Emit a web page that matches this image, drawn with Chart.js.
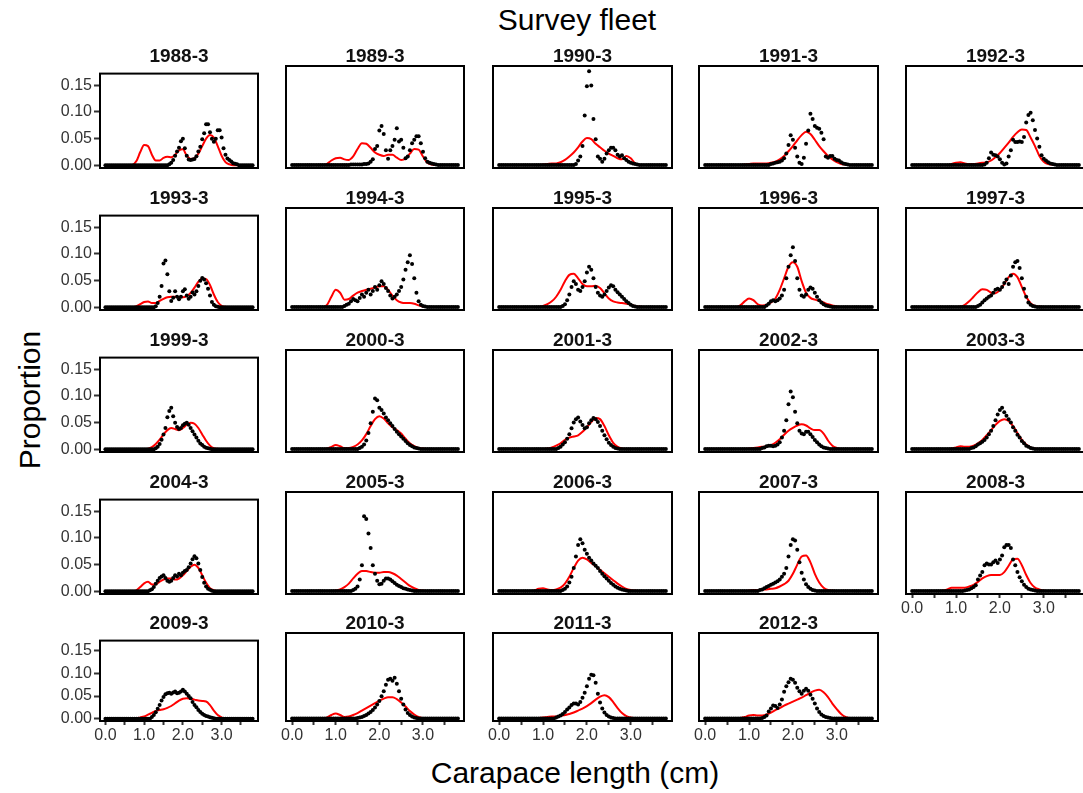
<!DOCTYPE html>
<html>
<head>
<meta charset="utf-8">
<script src="https://cdn.jsdelivr.net/npm/chart.js@4/dist/chart.umd.min.js"></script>
<style>
  html, body { margin: 0; padding: 0; background: #fff; }
  body { width: 1083px; height: 793px; overflow: hidden; position: relative;
         font-family: 'Liberation Sans', Arial, sans-serif; }
  .txt { position: absolute; white-space: nowrap; color: #000; text-align: center; }
  .panel-title { position: absolute; text-align: center; font-weight: bold; font-size: 19px;
                 line-height: 20px; color: #111; white-space: nowrap; }
  canvas { position: absolute; }
</style>
</head>
<body>
<div class="txt" style="left:377px;width:400px;top:2px;font-size:30px;line-height:36px;">Survey fleet</div>
<div class="txt" style="left:375px;width:400px;top:755px;font-size:30px;line-height:36px;">Carapace length (cm)</div>
<div class="txt" style="left:-170px;width:400px;top:382px;font-size:30px;line-height:36px;transform:rotate(-90deg);">Proportion</div>
<script>
// Survey fleet length compositions: observed proportions (points) and model fit (red line)

const panelTitles = [
  '1988-3','1989-3','1990-3','1991-3','1992-3',
  '1993-3','1994-3','1995-3','1996-3','1997-3',
  '1999-3','2000-3','2001-3','2002-3','2003-3',
  '2004-3','2005-3','2006-3','2007-3','2008-3',
  '2009-3','2010-3','2011-3','2012-3'
];

// carapace length bins (cm) of the observed proportions
const lengthBins = [0,0.05,0.1,0.15,0.2,0.25,0.3,0.35,0.4,0.45,0.5,0.55,0.6,0.65,0.7,0.75,0.8,0.85,0.9,0.95,
  1,1.05,1.1,1.15,1.2,1.25,1.3,1.35,1.4,1.45,1.5,1.55,1.6,1.65,1.7,1.75,1.8,1.85,1.9,1.95,
  2,2.05,2.1,2.15,2.2,2.25,2.3,2.35,2.4,2.45,2.5,2.55,2.6,2.65,2.7,2.75,2.8,2.85,2.9,2.95,
  3,3.05,3.1,3.15,3.2,3.25,3.3,3.35,3.4,3.45,3.5,3.55,3.6,3.65,3.7,3.75,3.8];

// carapace lengths (cm) at which the expected curve is given
const curveBins = [0,0.1,0.2,0.3,0.4,0.5,0.6,0.7,0.8,0.9,1,1.1,1.2,1.3,1.4,1.5,1.6,1.7,1.8,1.9,
  2,2.1,2.2,2.3,2.4,2.5,2.6,2.7,2.8,2.9,3,3.1,3.2,3.3,3.4,3.5,3.6,3.7,3.8];

const xTickValues = [0, 0.5, 1, 1.5, 2, 2.5, 3, 3.5];
const yTickValues = [0, 0.05, 0.1, 0.15];

// observed proportion at length, one row per panel
const observed = [
  /* 1988-3 */ [0,0,0,0,0, 0,0,0,0,0, 0,0,0,0,0, 0,0,0,0,0, 0,0,0,0,0, 0,0,0,0,0, 0,0,0,
    .002,.005,.01,.018,.026,.033,.045,.05,.032,.018,.011,.01,.011,.012,.017,.026,.035,.049,.06,.077,.077,.062,.05,.044,.05,.066,.066,.052,.032,.02,.013,.01,.007,.004,.003,.002,
    0,0,0,0,0, 0,0,0],
  /* 1989-3 */ [0,0,0,0,0, 0,0,0,0,0, 0,0,0,0,0, 0,0,0,0,0, 0,0,0,0,0, 0,0,
    .001,.001,.001,.001,.001,.001,.002,.002,.003,.006,.01,.028,.033,.06,.068,.054,.026,.011,.026,.033,.044,.064,.041,.044,.03,.012,.015,.026,.038,.044,.05,.05,.038,.023,.012,.006,.004,.003,.002,.001,
    0,0,0,0,0, 0,0,0,0,0],
  /* 1990-3 */ [0,0,0,0,0, 0,0,0,0,0, 0,0,0,0,0, 0,0,0,0,0, 0,0,0,0,0, 0,0,0,0,0, 0,0,0,0,0,
    .002,.008,.015,.033,.086,.137,.163,.138,.08,.045,.015,.011,.006,.011,.02,.026,.03,.03,.026,.018,.015,.017,.012,.009,.006,.004,.003,.002,.001,
    0,0,0,0,0, 0,0,0,0,0, 0,0,0],
  /* 1991-3 */ [0,0,0,0,0, 0,0,0,0,0, 0,0,0,0,0, 0,0,0,0,0, 0,0,0,0,0, 0,0,0,0,0,
    .002,.003,.004,.005,.006,.008,.012,.02,.035,.052,.044,.03,.015,.004,.002,.013,.037,.06,.089,.08,.068,.065,.063,.056,.045,.015,.013,.016,.016,.011,.009,.008,.005,.003,.002,.001,
    0,0,0,0,0, 0,0,0,0,0, 0],
  /* 1992-3 */ [0,0,0,0,0, 0,0,0,0,0, 0,0,0,0,0, 0,0,0,0,0, 0,0,0,0,0, 0,0,0,0,0, 0,0,0,
    .001,.004,.012,.022,.018,.017,.015,.01,.004,.001,.003,.015,.026,.044,.04,.04,.041,.04,.049,.074,.087,.091,.078,.061,.046,.032,.017,.011,.008,.005,.003,.002,.001,
    0,0,0,0,0, 0,0,0,0,0, 0],
  /* 1993-3 */ [0,0,0,0,0, 0,0,0,0,0, 0,0,0,0,0, 0,0,0,0,0, 0,0,0,0,0, 0,
    .002,.008,.02,.04,.082,.088,.062,.03,.012,.018,.03,.02,.015,.02,.03,.034,.022,.016,.02,.028,.024,.03,.04,.05,.055,.052,.045,.035,.022,.01,.005,.002,.001,
    0,0,0,0,0, 0,0,0,0,0, 0,0,0,0,0, 0,0,0],
  /* 1994-3 */ [0,0,0,0,0, 0,0,0,0,0, 0,0,0,0,0, 0,0,0,0,0, 0,0,0,0,
    .002,.004,.006,.01,.014,.012,.01,.016,.022,.018,.025,.03,.022,.028,.035,.03,.038,.045,.04,.033,.028,.02,.015,.018,.022,.028,.035,.048,.065,.078,.09,.075,.05,.025,.01,.004,.002,.001,
    0,0,0,0,0, 0,0,0,0,0, 0,0,0,0,0],
  /* 1995-3 */ [0,0,0,0,0, 0,0,0,0,0, 0,0,0,0,0, 0,0,0,0,0, 0,0,0,0,0, 0,0,0,0,
    .002,.005,.012,.022,.035,.045,.04,.03,.028,.035,.045,.06,.07,.065,.05,.035,.025,.02,.018,.022,.028,.034,.038,.036,.03,.026,.022,.018,.014,.01,.007,.004,.002,.001,
    0,0,0,0,0, 0,0,0,0,0, 0,0,0,0],
  /* 1996-3 */ [0,0,0,0,0, 0,0,0,0,0, 0,0,0,0,0, 0,0,0,0,0, 0,0,0,0,0, 0,0,0,
    .003,.006,.01,.012,.01,.012,.015,.02,.03,.05,.07,.09,.104,.08,.05,.03,.02,.018,.022,.03,.034,.032,.025,.018,.012,.008,.005,.003,.002,.001,
    0,0,0,0,0, 0,0,0,0,0, 0,0,0,0,0, 0,0,0,0],
  /* 1997-3 */ [0,0,0,0,0, 0,0,0,0,0, 0,0,0,0,0, 0,0,0,0,0, 0,0,0,0,0, 0,0,0,0,0,
    .002,.004,.008,.012,.015,.018,.02,.025,.03,.032,.03,.035,.042,.048,.04,.055,.07,.078,.08,.068,.05,.032,.018,.008,.004,.002,.001,
    0,0,0,0,0, 0,0,0,0,0, 0,0,0,0,0, 0,0,0,0,0],
  /* 1999-3 */ [0,0,0,0,0, 0,0,0,0,0, 0,0,0,0,0, 0,0,0,0,0, 0,0,0,0,0, 0,
    .002,.005,.01,.018,.028,.04,.06,.072,.078,.062,.05,.042,.038,.04,.045,.048,.05,.046,.04,.034,.028,.022,.016,.011,.008,.005,.003,.002,.001,
    0,0,0,0,0, 0,0,0,0,0, 0,0,0,0,0, 0,0,0,0,0, 0,0],
  /* 2000-3 */ [0,0,0,0,0, 0,0,0,0,0, 0,0,0,0,0, 0,0,0,0,0, 0,0,0,0,0, 0,0,0,0,0, 0,
    .002,.004,.008,.015,.028,.045,.065,.088,.085,.072,.068,.062,.055,.05,.045,.04,.035,.03,.026,.022,.018,.014,.01,.007,.005,.003,.002,.001,
    0,0,0,0,0, 0,0,0,0,0, 0,0,0,0,0, 0,0,0],
  /* 2001-3 */ [0,0,0,0,0, 0,0,0,0,0, 0,0,0,0,0, 0,0,0,0,0, 0,0,0,0,0, 0,0,
    .002,.004,.008,.012,.018,.026,.036,.046,.052,.055,.048,.042,.036,.038,.045,.05,.054,.052,.047,.04,.032,.024,.017,.011,.007,.004,.002,.001,
    0,0,0,0,0, 0,0,0,0,0, 0,0,0,0,0, 0,0,0,0,0, 0,0],
  /* 2002-3 */ [0,0,0,0,0, 0,0,0,0,0, 0,0,0,0,0, 0,0,0,0,0, 0,0,0,0,0, 0,
    .002,.003,.005,.006,.006,.005,.006,.008,.012,.02,.032,.05,.078,.1,.09,.065,.045,.032,.027,.026,.03,.03,.026,.021,.016,.012,.008,.005,.003,.002,.001,
    0,0,0,0,0, 0,0,0,0,0, 0,0,0,0,0, 0,0,0,0,0],
  /* 2003-3 */ [0,0,0,0,0, 0,0,0,0,0, 0,0,0,0,0, 0,0,0,0,0, 0,0,0,0,0, 0,0,
    .002,.003,.005,.008,.01,.013,.016,.02,.026,.032,.04,.05,.06,.068,.072,.064,.058,.052,.046,.038,.032,.025,.02,.014,.01,.006,.004,.002,.001,
    0,0,0,0,0, 0,0,0,0,0, 0,0,0,0,0, 0,0,0,0,0, 0],
  /* 2004-3 */ [0,0,0,0,0, 0,0,0,0,0, 0,0,0,0,0, 0,0,0,0,0, 0,0,0,
    .002,.004,.008,.014,.02,.025,.028,.03,.025,.02,.018,.02,.025,.03,.028,.033,.03,.035,.038,.04,.045,.052,.06,.066,.062,.052,.04,.027,.016,.009,.005,.003,.001,
    0,0,0,0,0, 0,0,0,0,0, 0,0,0,0,0, 0,0,0,0,0, 0],
  /* 2005-3 */ [0,0,0,0,0, 0,0,0,0,0, 0,0,0,0,0, 0,0,0,0,0, 0,0,0,0,0, 0,0,0,
    .002,.004,.008,.02,.045,.13,.125,.1,.075,.045,.03,.018,.012,.013,.018,.022,.022,.02,.017,.014,.011,.009,.007,.005,.004,.003,.002,.001,
    0,0,0,0,0, 0,0,0,0,0, 0,0,0,0,0, 0,0,0,0,0, 0],
  /* 2006-3 */ [0,0,0,0,0, 0,0,0,0,0, 0,0,0,0,0, 0,0,0,0,0, 0,0,0,0,0, 0,0,0,0,
    .002,.004,.008,.015,.025,.04,.06,.08,.09,.083,.072,.065,.058,.053,.048,.044,.04,.035,.03,.026,.022,.018,.014,.011,.008,.006,.004,.003,.002,.001,
    0,0,0,0,0, 0,0,0,0,0, 0,0,0,0,0, 0,0,0],
  /* 2007-3 */ [0,0,0,0,0, 0,0,0,0,0, 0,0,0,0,0, 0,0,0,0,0, 0,0,0,0,0,
    .002,.003,.005,.007,.009,.011,.013,.015,.017,.02,.025,.03,.04,.06,.08,.09,.088,.072,.05,.032,.02,.012,.007,.004,.002,.001,
    0,0,0,0,0, 0,0,0,0,0, 0,0,0,0,0, 0,0,0,0,0, 0,0,0,0,0, 0],
  /* 2008-3 */ [0,0,0,0,0, 0,0,0,0,0, 0,0,0,0,0, 0,0,0,0,0, 0,0,0,0,
    .001,.002,.003,.005,.007,.01,.02,.027,.033,.045,.048,.046,.046,.05,.053,.049,.055,.062,.076,.08,.08,.075,.055,.045,.033,.024,.017,.011,.007,.004,.003,.002,.001,
    0,0,0,0,0, 0,0,0,0,0, 0,0,0,0,0, 0,0,0,0,0],
  /* 2009-3 */ [0,0,0,0,0, 0,0,0,0,0, 0,0,0,0,0, 0,0,0,0,0, 0,0,0,0,
    .004,.008,.014,.022,.03,.04,.048,.054,.056,.057,.055,.058,.06,.056,.057,.06,.064,.06,.055,.05,.045,.037,.03,.025,.019,.015,.011,.008,.006,.005,.003,.002,.001,
    0,0,0,0,0, 0,0,0,0,0, 0,0,0,0,0, 0,0,0,0,0],
  /* 2010-3 */ [0,0,0,0,0, 0,0,0,0,0, 0,0,0,0,0, 0,0,0,0,0, 0,0,0,0,0, 0,0,0,0,0,
    .001,.002,.003,.005,.007,.01,.013,.017,.022,.028,.035,.045,.055,.068,.078,.08,.076,.082,.07,.055,.04,.028,.018,.011,.007,.004,.002,.001,
    0,0,0,0,0, 0,0,0,0,0, 0,0,0,0,0, 0,0,0,0],
  /* 2011-3 */ [0,0,0,0,0, 0,0,0,0,0, 0,0,0,0,0, 0,0,0,0,0, 0,0,0,0,0, 0,
    .002,.004,.006,.009,.013,.018,.022,.027,.03,.03,.028,.033,.042,.052,.065,.08,.088,.087,.072,.05,.032,.02,.012,.007,.004,.002,.001,
    0,0,0,0,0, 0,0,0,0,0, 0,0,0,0,0, 0,0,0,0,0, 0,0,0,0],
  /* 2012-3 */ [0,0,0,0,0, 0,0,0,0,0, 0,0,0,0,0, 0,0,0,0,0, 0,0,0,0,0, 0,
    .001,.003,.006,.014,.02,.026,.025,.021,.028,.038,.054,.065,.073,.08,.078,.072,.062,.055,.05,.056,.06,.056,.048,.04,.03,.02,.013,.008,.005,.003,.002,.001,
    0,0,0,0,0, 0,0,0,0,0, 0,0,0,0,0, 0,0,0,0]
];

// expected (model) proportion at length, one row per panel
const expected = [
  /* 1988-3 */ [0,0,0,0,0, 0,0, .001,.008,.025,.038,.036,.02,.009,.009,.014,.016,.015,.02,.028,.03,.018,.012,.013,.022,.036,.05,.057,.052,.036,.018,.006,.002, 0,0,0,0,0, 0],
  /* 1989-3 */ [0,0,0,0,0, 0,0,0, .002,.008,.012,.013,.01,.009,.015,.028,.038,.037,.03,.022,.018,.016,.018,.018,.013,.009,.011,.02,.028,.027,.015,.004,.001, 0,0,0,0,0, 0],
  /* 1990-3 */ [0,0,0,0,0, 0,0,0,0,0, .001,.002,.003,.003,.005,.009,.015,.022,.031,.041,.047,.045,.037,.031,.025,.02,.016,.012,.01,.016,.012,.003, 0,0,0,0,0, 0,0],
  /* 1991-3 */ [0,0,0,0,0, 0,0,0,0, .001,.002,.003,.003,.003,.003,.004,.006,.01,.016,.024,.033,.043,.052,.058,.054,.044,.033,.024,.016,.01,.005,.002,.001, 0,0,0,0,0, 0],
  /* 1992-3 */ [0,0,0,0,0, 0,0,0,0, .002,.004,.005,.003,.002,.002,.003,.004,.005,.008,.014,.021,.03,.039,.049,.057,.062,.061,.048,.033,.016,.006,.002,.001, 0,0,0,0,0, 0],
  /* 1993-3 */ [0,0,0,0,0, 0,0,0, .002,.006,.01,.011,.008,.008,.012,.016,.019,.02,.02,.019,.019,.021,.027,.037,.048,.054,.053,.042,.024,.01,.003,.001, 0,0,0,0,0, 0,0],
  /* 1994-3 */ [0,0,0,0,0, 0,0,0, .004,.018,.03,.025,.013,.014,.02,.025,.028,.03,.032,.034,.036,.036,.03,.02,.012,.008,.007,.007,.006,.003,.001, 0,0,0,0,0, 0,0,0],
  /* 1995-3 */ [0,0,0,0,0, 0,0,0,0,0, .002,.005,.01,.018,.03,.045,.056,.058,.05,.04,.036,.036,.037,.033,.024,.015,.01,.008,.007,.006,.004,.002,.001, 0,0,0,0,0, 0],
  /* 1996-3 */ [0,0,0,0,0, 0,0,0, .003,.01,.015,.012,.005,.003,.004,.008,.015,.03,.05,.07,.078,.07,.045,.025,.016,.013,.011,.008,.005,.003,.001, 0,0,0,0,0, 0,0,0],
  /* 1997-3 */ [0,0,0,0,0, 0,0,0,0,0, 0, .001,.004,.01,.018,.026,.031,.03,.025,.024,.03,.04,.052,.058,.052,.035,.018,.007,.002,.001, 0,0,0,0,0, 0,0,0,0],
  /* 1999-3 */ [0,0,0,0,0, 0,0,0,0,0, 0, .001,.004,.01,.018,.028,.036,.04,.038,.036,.04,.046,.05,.048,.04,.028,.016,.007,.002,.001, 0,0,0,0,0, 0,0,0,0],
  /* 2000-3 */ [0,0,0,0,0, 0,0,0, .001,.004,.007,.005,.002,.002,.004,.008,.015,.026,.04,.052,.057,.053,.045,.038,.033,.027,.018,.01,.005,.002,.001, 0,0,0,0,0, 0,0,0],
  /* 2001-3 */ [0,0,0,0,0, 0,0,0,0,0, 0, .001,.003,.006,.01,.016,.02,.022,.024,.03,.038,.047,.054,.052,.04,.024,.011,.004,.001, 0,0,0,0,0, 0,0,0,0,0],
  /* 2002-3 */ [0,0,0,0,0, 0,0,0,0,0, .001,.002,.003,.004,.005,.007,.011,.017,.025,.032,.037,.041,.043,.041,.036,.033,.033,.027,.015,.006,.002, 0,0,0,0,0, 0,0,0],
  /* 2003-3 */ [0,0,0,0,0, 0,0,0,0, .001,.003,.005,.004,.004,.006,.01,.016,.024,.033,.042,.049,.052,.049,.04,.028,.016,.008,.003,.001, 0,0,0,0,0, 0,0,0,0,0],
  /* 2004-3 */ [0,0,0,0,0, 0,0,0, .002,.008,.015,.018,.013,.013,.018,.022,.024,.024,.022,.024,.03,.038,.046,.05,.044,.03,.016,.006,.002, 0,0,0,0,0, 0,0,0,0,0],
  /* 2005-3 */ [0,0,0,0,0, 0,0,0,0,0, .001,.003,.007,.013,.022,.03,.035,.035,.033,.032,.032,.033,.033,.031,.027,.021,.015,.009,.005,.002,.001, 0,0,0,0,0, 0,0,0],
  /* 2006-3 */ [0,0,0,0,0, 0,0,0, .001,.004,.005,.003,.002,.003,.006,.013,.025,.04,.053,.058,.055,.049,.043,.037,.031,.025,.019,.013,.008,.004,.002,.001, 0,0,0,0,0, 0,0],
  /* 2007-3 */ [0,0,0,0,0, 0,0,0,0,0, .001,.002,.002,.003,.003,.004,.005,.008,.012,.018,.03,.046,.06,.062,.05,.03,.015,.006,.002,.001, 0,0,0,0,0, 0,0,0,0],
  /* 2008-3 */ [0,0,0,0,0, 0,0, .001,.003,.006,.006,.006,.006,.008,.011,.016,.022,.026,.028,.028,.028,.033,.044,.055,.056,.045,.028,.014,.006,.003,.001, 0,0,0,0,0, 0,0,0],
  /* 2009-3 */ [0,0,0,0,0, 0,0,0, .001,.003,.005,.009,.013,.017,.019,.021,.024,.028,.034,.04,.044,.045,.044,.042,.04,.039,.038,.03,.018,.008,.003,.001, 0,0,0,0,0, 0,0],
  /* 2010-3 */ [0,0,0,0,0, 0,0,0, .002,.007,.01,.007,.003,.004,.007,.011,.016,.021,.026,.031,.036,.04,.043,.043,.039,.032,.024,.015,.008,.003,.001, 0,0,0,0,0, 0,0,0],
  /* 2011-3 */ [0,0,0,0,0, 0,0,0,0, .001,.002,.003,.004,.004,.005,.007,.009,.012,.016,.02,.025,.031,.038,.044,.047,.043,.033,.021,.011,.005,.002,.001, 0,0,0,0,0, 0,0],
  /* 2012-3 */ [0,0,0,0,0, 0,0,0, .001,.003,.006,.007,.006,.006,.008,.012,.017,.021,.026,.03,.034,.038,.042,.047,.052,.056,.058,.053,.043,.03,.019,.009,.003,.001, 0,0,0,0,0]
];

panelTitles.forEach((t, p) => {
  if (observed[p].length !== lengthBins.length) throw new Error('observed ' + t + ' has ' + observed[p].length + ' values');
  if (expected[p].length !== curveBins.length) throw new Error('expected ' + t + ' has ' + expected[p].length + ' values');
});

// facet layout (pixels)
const colLeft = [100, 286, 493, 699, 906];
const colWidth = [158, 178, 179, 179, 179];
const rowTop = [66, 208, 350, 492, 633];
const rowHeight = [102, 102, 102, 102, 88];
const AXIS_W = 60, AXIS_H = 26, PAD = 4;
const FONT = "'Liberation Sans', Arial, sans-serif";

// black frame around every panel
const panelFrame = {
  id: 'panelFrame',
  afterDraw(chart) {
    const a = chart.chartArea, ctx = chart.ctx;
    ctx.save();
    ctx.strokeStyle = '#000';
    ctx.lineWidth = 2;
    ctx.strokeRect(a.left, a.top, a.right - a.left, a.bottom - a.top);
    ctx.restore();
  }
};

panelTitles.forEach((title, p) => {
  const r = Math.floor(p / 5), c = p % 5;
  const showX = p + 5 >= panelTitles.length;
  const showY = c === 0;
  const w = colWidth[c] + AXIS_W + PAD, h = rowHeight[r] + PAD + AXIS_H;

  const canvas = document.createElement('canvas');
  canvas.width = w; canvas.height = h;
  canvas.style.width = w + 'px'; canvas.style.height = h + 'px';
  canvas.style.left = (colLeft[c] - AXIS_W) + 'px';
  canvas.style.top = (rowTop[r] - PAD) + 'px';
  document.body.appendChild(canvas);

  const label = document.createElement('div');
  label.className = 'panel-title';
  label.textContent = title;
  label.style.left = colLeft[c] + 'px';
  label.style.width = colWidth[c] + 'px';
  label.style.top = (rowTop[r] - 20) + 'px';
  document.body.appendChild(label);

  new Chart(canvas, {
    type: 'line',
    data: {
      datasets: [
        {
          type: 'scatter',
          data: lengthBins.map((x, i) => ({ x, y: observed[p][i] })),
          backgroundColor: '#000',
          borderWidth: 0,
          pointRadius: 2,
          order: 0
        },
        {
          type: 'line',
          data: curveBins.map((x, i) => ({ x, y: expected[p][i] })),
          borderColor: '#ff0000',
          borderWidth: 2,
          pointRadius: 0,
          cubicInterpolationMode: 'monotone',
          order: 1
        }
      ]
    },
    options: {
      responsive: false,
      animation: false,
      devicePixelRatio: 1,
      events: [],
      layout: { padding: { left: 0, right: PAD, top: PAD, bottom: 0 } },
      plugins: { legend: { display: false }, tooltip: { enabled: false }, title: { display: false } },
      scales: {
        x: {
          type: 'linear', min: -0.14, max: 3.94,
          afterBuildTicks: s => { s.ticks = xTickValues.map(v => ({ value: v })); },
          afterFit: s => { s.height = AXIS_H; },
          border: { display: false },
          grid: { display: showX, drawOnChartArea: false, drawTicks: true, tickLength: 4, tickWidth: 2, tickColor: '#333' },
          ticks: {
            display: showX, padding: 1, color: '#333', maxRotation: 0, autoSkip: false,
            font: { family: FONT, size: 16 },
            callback: v => Number.isInteger(v) ? v.toFixed(1) : ''
          }
        },
        y: {
          type: 'linear', min: -0.005, max: 0.172,
          afterBuildTicks: s => { s.ticks = yTickValues.map(v => ({ value: v })); },
          afterFit: s => { s.width = AXIS_W; },
          border: { display: false },
          grid: { display: showY, drawOnChartArea: false, drawTicks: true, tickLength: 6, tickWidth: 2, tickColor: '#333' },
          ticks: {
            display: showY, padding: 2, color: '#333',
            font: { family: FONT, size: 16 },
            callback: v => v.toFixed(2)
          }
        }
      }
    },
    plugins: [panelFrame]
  });
});
</script>
</body>
</html>
